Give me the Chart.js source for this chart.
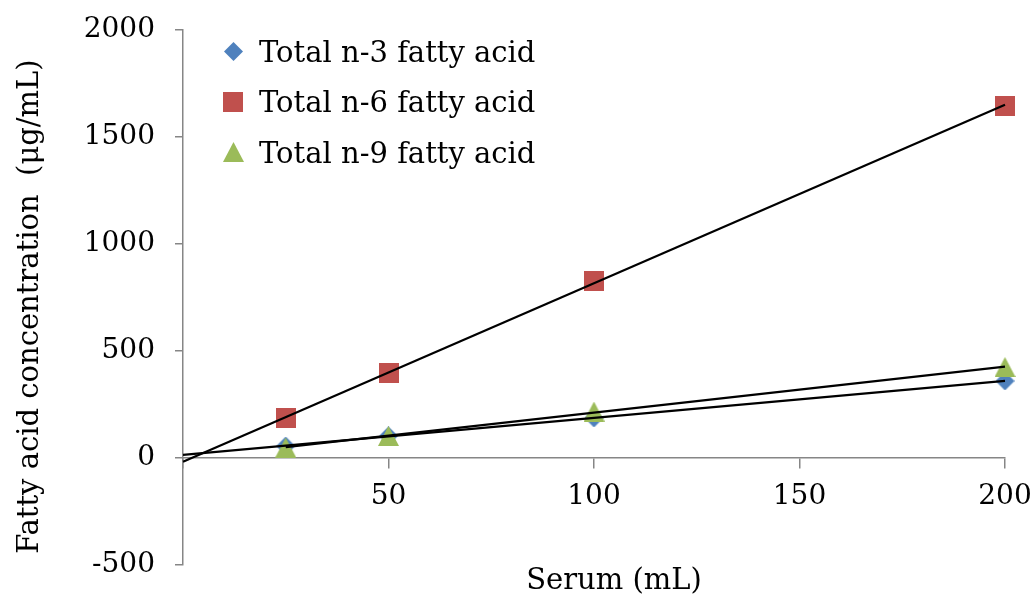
<!DOCTYPE html>
<html>
<head>
<meta charset="utf-8">
<script src="https://cdn.jsdelivr.net/npm/chart.js@4/dist/chart.umd.min.js"></script>
<style>
  html, body { margin: 0; padding: 0; background: #ffffff; }
  canvas { display: block; }
</style>
</head>
<body>
<canvas id="chart" width="1031" height="594"></canvas>
<script>
// Serum volume (mL) for each measurement
const serumVolumes = [25, 50, 100, 200];

// Measured concentrations (µg/mL)
const n3Values = [56, 103, 187, 360];
const n6Values = [187, 397, 826, 1647];
const n9Values = [49, 103, 217, 425];

const seriesNames = ['Total n-3 fatty acid', 'Total n-6 fatty acid', 'Total n-9 fatty acid'];
const seriesColors = ['#4F81BD', '#C0504D', '#9BBB59'];
const markerShapes = ['diamond', 'square', 'triangle'];

// Where each linear trendline starts on the x axis
const trendStarts = [0, 0, 25];
const trendEnd = 200;

// Axis ticks and titles
const xTickValues = [0, 50, 100, 150, 200];
const yTickValues = [-500, 0, 500, 1000, 1500, 2000];
const xAxisTitle = 'Serum (mL)';
const yAxisTitle = 'Fatty acid concentration  (μg/mL)';

const FONT = '"DejaVu Serif", "Liberation Serif", serif';
const AXIS_GRAY = '#868686';

// Marker bitmaps, shared by the plotted points and the legend
function makeMarker(shape, color) {
  const c = document.createElement('canvas');
  const w = shape === 'triangle' ? 21 : (shape === 'diamond' ? 19 : 20);
  const h = shape === 'diamond' ? 19 : 20;
  c.width = w; c.height = h;
  const g = c.getContext('2d');
  g.fillStyle = color;
  g.beginPath();
  if (shape === 'diamond') {
    g.moveTo(w / 2, 0); g.lineTo(w, h / 2); g.lineTo(w / 2, h); g.lineTo(0, h / 2);
  } else if (shape === 'square') {
    g.rect(0, 0, w, h);
  } else {
    g.moveTo(w / 2, 0); g.lineTo(w, h); g.lineTo(0, h);
  }
  g.closePath();
  g.fill();
  return c;
}
const markers = markerShapes.map((s, i) => makeMarker(s, seriesColors[i]));

// Least-squares straight line through a series
function linearFit(xs, ys) {
  const n = xs.length;
  const mx = xs.reduce((a, b) => a + b, 0) / n;
  const my = ys.reduce((a, b) => a + b, 0) / n;
  let sxy = 0, sxx = 0;
  for (let i = 0; i < n; i++) {
    sxy += (xs[i] - mx) * (ys[i] - my);
    sxx += (xs[i] - mx) * (xs[i] - mx);
  }
  const slope = sxy / sxx;
  return { slope, intercept: my - slope * mx };
}

const allSeries = [n3Values, n6Values, n9Values];

const pointDatasets = allSeries.map((vals, i) => ({
  type: 'scatter',
  label: seriesNames[i],
  data: serumVolumes.map((x, j) => ({ x, y: vals[j] })),
  pointStyle: markers[i],
  pointRadius: 10,
  pointHoverRadius: 10,
  showLine: false,
  clip: false,
  order: 3 - i
}));

const trendDatasets = allSeries.map((vals, i) => {
  const f = linearFit(serumVolumes, vals);
  const x0 = trendStarts[i];
  return {
    type: 'line',
    label: seriesNames[i] + ' trend',
    data: [
      { x: x0, y: f.intercept + f.slope * x0 },
      { x: trendEnd, y: f.intercept + f.slope * trendEnd }
    ],
    borderColor: '#000000',
    borderWidth: 2.2,
    pointRadius: 0,
    fill: false,
    clip: false,
    order: 0
  };
});

// Legend in the upper-left of the plot plus both axis titles
const overlayText = {
  id: 'overlayText',
  afterDraw(chart) {
    const ctx = chart.ctx;
    ctx.save();
    ctx.fillStyle = '#000000';
    ctx.font = '29px ' + FONT;
    ctx.textBaseline = 'alphabetic';
    ctx.textAlign = 'left';
    seriesNames.forEach((name, i) => {
      const cy = 51 + i * 50.5;
      const img = markers[i];
      ctx.drawImage(img, Math.round(233 - img.width / 2), Math.round(cy - img.height / 2));
      ctx.fillText(name, 259, cy + 10.5);
    });

    ctx.textAlign = 'center';
    ctx.fillText(xAxisTitle, 614, 589);

    ctx.translate(38, 306.5);
    ctx.rotate(-Math.PI / 2);
    ctx.fillText(yAxisTitle, 0, 0);
    ctx.restore();
  }
};

new Chart(document.getElementById('chart'), {
  data: { datasets: [...trendDatasets, ...pointDatasets] },
  options: {
    responsive: false,
    animation: false,
    devicePixelRatio: 1,
    layout: { padding: { left: 0, top: 30, right: 26, bottom: 29 } },
    plugins: {
      legend: { display: false },
      tooltip: { enabled: false },
      title: { display: false }
    },
    scales: {
      x: {
        type: 'linear',
        position: { y: 0 },
        min: 0,
        max: 200,
        afterBuildTicks: (s) => { s.ticks = xTickValues.map(v => ({ value: v })); },
        afterFit: (s) => { s.height = 0; s.paddingLeft = 0; s.paddingRight = 0; },
        grid: { drawOnChartArea: false, drawTicks: true, tickLength: 10, color: AXIS_GRAY, lineWidth: 1.5 },
        border: { display: true, color: AXIS_GRAY, width: 1.5 },
        ticks: {
          color: '#000000',
          font: { family: FONT, size: 28 },
          padding: 12,
          maxRotation: 0,
          autoSkip: false,
          callback: (v) => (v === 0 ? '' : String(v))
        }
      },
      y: {
        type: 'linear',
        position: 'left',
        min: -500,
        max: 2000,
        afterBuildTicks: (s) => { s.ticks = yTickValues.map(v => ({ value: v })); },
        afterFit: (s) => { s.width = 183; s.paddingTop = 0; s.paddingBottom = 0; },
        grid: { drawOnChartArea: false, drawTicks: true, tickLength: 8, color: AXIS_GRAY, lineWidth: 1.5 },
        border: { display: true, color: AXIS_GRAY, width: 1.5 },
        ticks: {
          color: '#000000',
          font: { family: FONT, size: 28 },
          padding: 20,
          autoSkip: false,
          callback: (v) => String(v)
        }
      }
    }
  },
  plugins: [overlayText]
});
</script>
</body>
</html>
